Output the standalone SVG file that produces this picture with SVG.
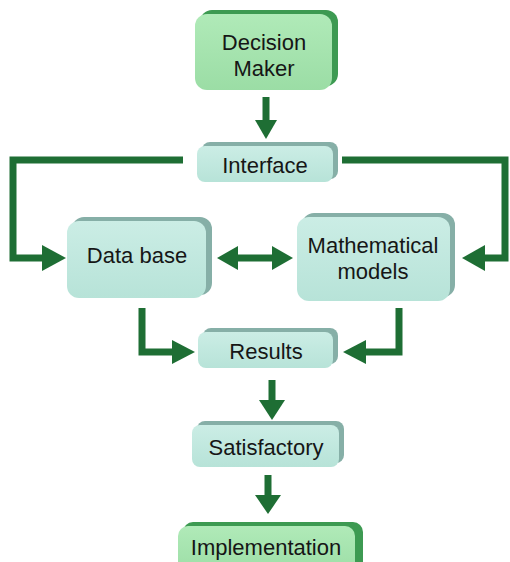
<svg xmlns="http://www.w3.org/2000/svg" width="510" height="562" viewBox="0 0 510 562">
<defs>
<linearGradient id="gGreen" x1="0" y1="0" x2="0" y2="1">
<stop offset="0" stop-color="#b0eab8"/><stop offset="1" stop-color="#9bdda5"/>
</linearGradient>
<linearGradient id="gTeal" x1="0" y1="0" x2="0" y2="1">
<stop offset="0" stop-color="#cbede5"/><stop offset="1" stop-color="#b7e3d8"/>
</linearGradient>
</defs>
<style>
.backG{fill:#3d9a52}
.faceG{fill:url(#gGreen)}
.backT{fill:#86afa7}
.faceT{fill:url(#gTeal)}
text{font-family:"Liberation Sans",Arial,sans-serif;fill:#161616;text-anchor:middle;font-size:22px}
.line{fill:none;stroke:#1e6e34;stroke-width:7}
.head{fill:#1e6e34}
</style>
<rect width="510" height="562" fill="#ffffff"/>
<g id="connectors">
<path class="line" d="M266,97 V121"/>
<polygon class="head" points="255,120 266,139 277,120"/>
<path class="line" d="M183,160 H13 V258 H43"/>
<polygon class="head" points="42,245 66,258 42,271"/>
<path class="line" d="M342,160 H505 V258 H484"/>
<polygon class="head" points="485,245 462,258 485,271"/>
<path class="line" d="M237,258 H273"/>
<polygon class="head" points="238,246 217,258 238,270"/>
<polygon class="head" points="272,246 293,258 272,270"/>
<path class="line" d="M142,308 V352 H173"/>
<polygon class="head" points="172,340 195,352 172,364"/>
<path class="line" d="M399,308 V352 H365"/>
<polygon class="head" points="366,340 343,352 366,364"/>
<path class="line" d="M272,380 V401"/>
<polygon class="head" points="259,400 272,420 285,400"/>
<path class="line" d="M268,475 V496"/>
<polygon class="head" points="255,495 268,514 281,495"/>
</g>
<g id="decision-maker">
<rect class="backG" x="200" y="10" width="138" height="76" rx="12"/>
<rect class="faceG" x="195" y="14" width="137" height="76" rx="12"/>
<text x="264" y="50">Decision</text>
<text x="264" y="76">Maker</text>
</g>
<g id="interface">
<rect class="backT" x="202" y="142" width="136" height="37" rx="8"/>
<rect class="faceT" x="197" y="146" width="136" height="36" rx="8"/>
<text x="265" y="173">Interface</text>
</g>
<g id="data-base">
<rect class="backT" x="72" y="217" width="140" height="78" rx="12"/>
<rect class="faceT" x="67" y="221" width="139" height="77" rx="12"/>
<text x="137" y="263">Data base</text>
</g>
<g id="mathematical-models">
<rect class="backT" x="302" y="213" width="153" height="84" rx="12"/>
<rect class="faceT" x="297" y="217" width="153" height="84" rx="12"/>
<text x="373" y="253">Mathematical</text>
<text x="373" y="279">models</text>
</g>
<g id="results">
<rect class="backT" x="203" y="328" width="135" height="36" rx="8"/>
<rect class="faceT" x="198" y="332" width="135" height="36" rx="8"/>
<text x="266" y="359">Results</text>
</g>
<g id="satisfactory">
<rect class="backT" x="197" y="421" width="147" height="42" rx="8"/>
<rect class="faceT" x="192" y="425" width="147" height="42" rx="8"/>
<text x="266" y="455">Satisfactory</text>
</g>
<g id="implementation">
<rect class="backG" x="183" y="522" width="180" height="50" rx="10"/>
<rect class="faceG" x="178" y="526" width="177" height="50" rx="10"/>
<text x="266" y="555">Implementation</text>
</g>
</svg>
